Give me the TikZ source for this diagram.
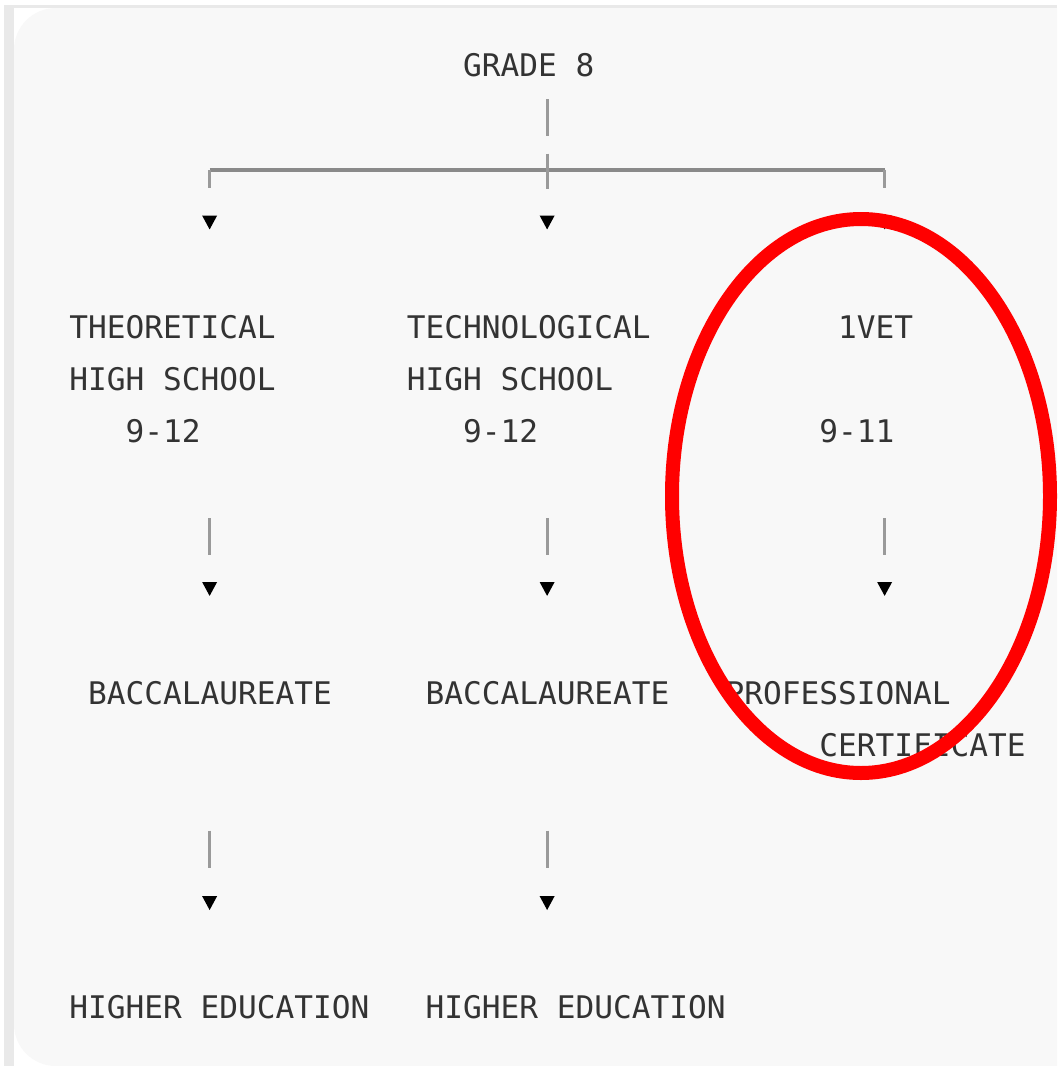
\documentclass[tikz,border=0pt]{standalone}
\usepackage{fontspec}
\usetikzlibrary{arrows.meta}
\usetikzlibrary{calc}
\newfontfamily\asciifont{DejaVu Sans Mono}
\definecolor{panel}{HTML}{F8F8F8}
\definecolor{frame}{HTML}{E9E9E9}
\definecolor{barcol}{HTML}{8A8A8A}
\definecolor{pipecol}{HTML}{9A9A9A}
\definecolor{inkcol}{HTML}{333333}
% character grid of the ascii chart (in px)
\def\colw{18.75}
\def\rowh{52.35}
\def\xo{69}
\def\yb{76.3}
\tikzset{%
    txt/.style={anchor=base west, inner sep=0pt, text height=11.3pt, text depth=0pt,
        text=inkcol, font={\asciifont\fontsize{15.57}{18}\selectfont}},
    flow/.style={draw=pipecol, line width=1.5pt, shorten >=42.7pt,
        dash pattern=on 18.5pt off 200pt,
        -{Triangle[length=7pt,width=7pt,color=black]}},
    split flow/.style={flow, dash pattern=on 9.15pt off 200pt},
    bracket/.style={draw=barcol, line width=2pt},
    ring/.style={draw=red, line width=7pt},
}

\begin{document}
\begin{tikzpicture}[x=0.5pt,y=-0.5pt]
\useasboundingbox (0,0) rectangle (1057,1066);
\clip (0,0) rectangle (1057,1066);
\fill [white] (0,0) rectangle (1057,1066);
\fill [frame] (4,5) rectangle (1057,1066);
\fill [white] (14,8) rectangle (1057,1066);
\fill [panel, rounded corners=21pt] (14,8) rectangle (1120,1066);
%
\node (grade) [txt] at ({\xo+21*\colw},{\yb}) {GRADE 8};
\node (theo1) [txt] at ({\xo},{\yb+5*\rowh}) {THEORETICAL};
\node (theo2) [txt] at ({\xo},{\yb+6*\rowh}) {HIGH SCHOOL};
\node (theo3) [txt] at ({\xo+3*\colw},{\yb+7*\rowh}) {9-12};
\node (tech1) [txt] at ({\xo+18*\colw},{\yb+5*\rowh}) {TECHNOLOGICAL};
\node (tech2) [txt] at ({\xo+18*\colw},{\yb+6*\rowh}) {HIGH SCHOOL};
\node (tech3) [txt] at ({\xo+21*\colw},{\yb+7*\rowh}) {9-12};
\node (ivet1) [txt] at ({\xo+41*\colw},{\yb+5*\rowh}) {1VET};
\node (ivet3) [txt] at ({\xo+40*\colw},{\yb+7*\rowh}) {9-11};
\node (bac1) [txt] at ({\xo+1*\colw},{\yb+12*\rowh}) {BACCALAUREATE};
\node (bac2) [txt] at ({\xo+19*\colw},{\yb+12*\rowh}) {BACCALAUREATE};
\node (prof1) [txt] at ({\xo+35*\colw},{\yb+12*\rowh}) {PROFESSIONAL};
\node (prof2) [txt] at ({\xo+40*\colw},{\yb+13*\rowh}) {CERTIFICATE};
\node (high1) [txt] at ({\xo},{\yb+18*\rowh}) {HIGHER EDUCATION};
\node (high2) [txt] at ({\xo+19*\colw},{\yb+18*\rowh}) {HIGHER EDUCATION};
%
\coordinate (lt) at ({\xo+7.5*\colw},{\yb-11.3+2*\rowh});
\coordinate (mid) at ({\xo+25.5*\colw},{\yb-11.3+2*\rowh});
\coordinate (rt) at ({\xo+43.5*\colw},{\yb-11.3+2*\rowh});
\draw [bracket] (lt) -- (rt);
\draw [split flow] (lt) -- (theo1.north -| lt);
\draw [flow, shorten <=11.3pt, dash pattern=on 18.5pt off 8.6pt on 17.5pt off 200pt]
    (grade.south -| mid) -- (tech1.north -| mid);
\draw [split flow] (rt) -- (ivet1.north -| rt);
%
\draw [flow, shorten <=37.45pt] (theo3.south -| lt) -- (bac1.north -| lt);
\draw [flow, shorten <=37.45pt] (tech3.south -| mid) -- (bac2.north -| mid);
\draw [flow, shorten <=37.45pt] (ivet3.south -| rt) -- (prof1.north -| rt);
\draw [flow, shorten <=62.9pt] (bac1.south -| lt) -- (high1.north -| lt);
\draw [flow, shorten <=62.9pt] (bac2.south -| mid) -- (high2.north -| mid);
%
\draw [ring] (861,496) ellipse [x radius=94.5pt, y radius=138.5pt];
\end{tikzpicture}
\end{document}
